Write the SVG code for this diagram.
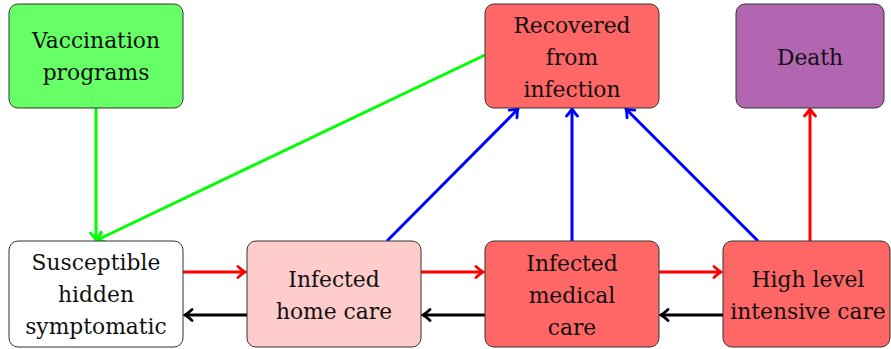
<svg xmlns="http://www.w3.org/2000/svg" width="891" height="349" viewBox="0 0 891 349">
<style>
.box{stroke:#333;stroke-width:1}
text{font-family:'DejaVu Serif','Liberation Serif',serif;font-size:21.8px;fill:#111;text-anchor:middle}
.c{fill:none;stroke-width:3}
</style>
<defs>
<marker id="ar" markerWidth="14" markerHeight="14" viewBox="-10 -7 12 14" refX="0" refY="0" orient="auto" markerUnits="userSpaceOnUse">
<path d="M-7,-5.5 Q-2,-1 0,0 Q-2,1 -7,5.5" fill="none" stroke="context-stroke" stroke-width="2.8" stroke-linecap="round"/>
</marker>
</defs>
<g id="connectors">
<path class="c" stroke="#00ff00" d="M96,108 L96,240" marker-end="url(#ar)"/>
<path class="c" stroke="#00ff00" d="M485,55 L97,240" marker-end="url(#ar)"/>
<path class="c" stroke="#ff0000" d="M183,272 L245,272" marker-end="url(#ar)"/>
<path class="c" stroke="#000" d="M247,315 L185,315" marker-end="url(#ar)"/>
<path class="c" stroke="#ff0000" d="M421,272 L483,272" marker-end="url(#ar)"/>
<path class="c" stroke="#000" d="M485,315 L423,315" marker-end="url(#ar)"/>
<path class="c" stroke="#ff0000" d="M659,272 L721,272" marker-end="url(#ar)"/>
<path class="c" stroke="#000" d="M723,315 L661,315" marker-end="url(#ar)"/>
<path class="c" stroke="#0000ff" d="M387,241 L518,109" marker-end="url(#ar)"/>
<path class="c" stroke="#0000ff" d="M572,241 L572,109" marker-end="url(#ar)"/>
<path class="c" stroke="#0000ff" d="M758,241 L626,109" marker-end="url(#ar)"/>
<path class="c" stroke="#ff0000" d="M810,241 L810,109" marker-end="url(#ar)"/>
</g>
<g id="vaccination">
<rect class="box" x="9" y="4" width="174" height="104" rx="9" fill="#66ff66"/>
<text x="96" y="48">Vaccination</text>
<text x="96" y="80">programs</text>
</g>
<g id="recovered">
<rect class="box" x="485" y="4" width="174" height="104" rx="9" fill="#ff6666"/>
<text x="572" y="33">Recovered</text>
<text x="572" y="65">from</text>
<text x="572" y="97">infection</text>
</g>
<g id="death">
<rect class="box" x="736" y="4" width="148" height="104" rx="9" fill="#b266b2"/>
<text x="810" y="65">Death</text>
</g>
<g id="susceptible">
<rect class="box" x="9" y="241" width="174" height="106" rx="9" fill="#ffffff"/>
<text x="96" y="270">Susceptible</text>
<text x="96" y="302">hidden</text>
<text x="96" y="334">symptomatic</text>
</g>
<g id="homecare">
<rect class="box" x="247" y="241" width="174" height="106" rx="9" fill="#ffcccc"/>
<text x="334" y="287">Infected</text>
<text x="334" y="319">home care</text>
</g>
<g id="medical">
<rect class="box" x="485" y="241" width="174" height="106" rx="9" fill="#ff6666"/>
<text x="572" y="271">Infected</text>
<text x="572" y="303">medical</text>
<text x="572" y="335">care</text>
</g>
<g id="highlevel">
<rect class="box" x="723" y="241" width="167" height="106" rx="9" fill="#ff6666"/>
<text x="808" y="287">High level</text>
<text x="808" y="319">intensive care</text>
</g>
</svg>
